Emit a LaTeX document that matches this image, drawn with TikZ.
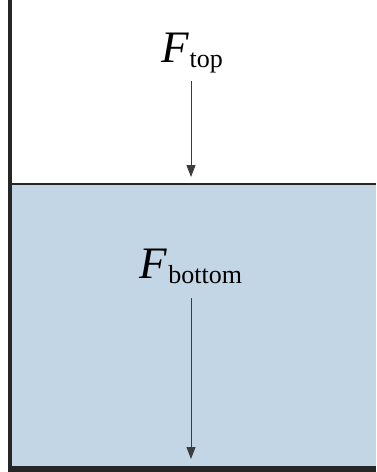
\documentclass[tikz,border=0pt]{standalone}
\usepackage{fontspec}
\setmainfont{Liberation Serif}
\usepackage{tikz}
\usetikzlibrary{arrows.meta}
\usepackage{xcolor}
\definecolor{waterc}{RGB}{195,214,230}
\definecolor{wallc}{RGB}{38,38,38}
\definecolor{forcec}{RGB}{60,60,60}
\newcommand{\forcelabel}[1]{{\fontsize{45}{45}\selectfont\itshape F}\kern1pt\raisebox{-5pt}{\fontsize{26}{26}\selectfont #1}}
\tikzset{
  wall/.style={fill=wallc,draw=none},
  surf/.style={line width=1.5pt,wallc},
  lab/.style={inner sep=0pt,anchor=base},
  force/.style={-{Triangle[length=12pt,width=9pt]},line width=1pt,forcec},
}
\begin{document}
\begin{tikzpicture}[x=1pt,y=-1pt]
  \useasboundingbox (0,0) rectangle (376,472);
  % ---- the liquid ----
  \fill[waterc] (12,184) rectangle (376,467);
  \draw[surf] (12,184) -- (376,184);
  % ---- container walls ----
  \fill[wall] (8,0) rectangle (12,472);
  \fill[wall] (8,466) rectangle (376,472);
  % ---- forces ----
  \node[lab] (Ftop) at (192,62) {\forcelabel{top}};
  \node[lab] (Fbot) at (191,278) {\forcelabel{bottom}};
  \coordinate (topA) at (191,81);
  \coordinate (topB) at (191,177);
  \coordinate (botA) at (191,298);
  \coordinate (botB) at (191,459);
  \draw[force] (topA) -- (topB);
  \draw[force] (botA) -- (botB);
\end{tikzpicture}
\end{document}
